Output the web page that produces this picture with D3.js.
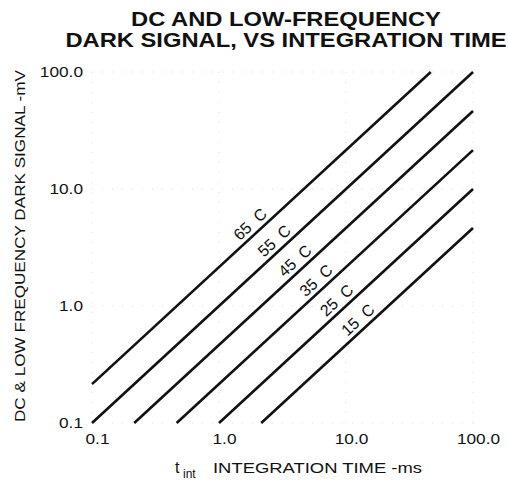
<!DOCTYPE html>
<html>
<head>
<meta charset="utf-8">
<script src="https://cdn.jsdelivr.net/npm/d3@7"></script>
<style>
  html, body { margin: 0; padding: 0; background: #fff; }
  svg { display: block; font-family: "Liberation Sans", Arial, Helvetica, sans-serif; }
</style>
</head>
<body>
<svg id="chart" width="508" height="480"></svg>
<script>
// ---- data ----
const categories   = ["65 C", "55 C", "45 C", "35 C", "25 C", "15 C"];
const startTime    = [0.1, 0.1, 0.215, 0.464, 1.0, 2.15];     // ms
const startSignal  = [0.215, 0.1, 0.1, 0.1, 0.1, 0.1];        // mV
const endTime      = [46.5, 100, 100, 100, 100, 100];         // ms
const endSignal    = [100, 100, 46.4, 21.5, 10, 4.64];        // mV
const labelTime    = [2.0, 3.1, 4.5, 6.6, 9.6, 14.1];         // ms, where each label sits
const xTickValues  = [0.1, 1, 10, 100];
const xTickLabels  = ["0.1", "1.0", "10.0", "100.0"];
const yTickValues  = [0.1, 1, 10, 100];
const yTickLabels  = ["0.1", "1.0", "10.0", "100.0"];
const titleLines   = ["DC AND LOW-FREQUENCY", "DARK SIGNAL, VS INTEGRATION TIME"];
const xTitle       = "INTEGRATION TIME -ms";
const yTitle       = "DC & LOW FREQUENCY DARK SIGNAL -mV";

// ---- layout ----
const svg = d3.select("#chart");
const x = d3.scaleLog().domain([0.1, 100]).range([92, 473]);
const y = d3.scaleLog().domain([0.1, 100]).range([423, 72]);
const ink = "#111";

function stretch(sel, k) {
  sel.each(function () {
    const len = this.getComputedTextLength();
    d3.select(this).attr("textLength", len * k).attr("lengthAdjust", "spacingAndGlyphs");
  });
}

// faint dotted grid (decades)
const grid = svg.append("g").attr("stroke", "#bbb").attr("stroke-width", 1)
  .attr("stroke-dasharray", "1,9").attr("opacity", 0.45);
grid.selectAll("line.v").data(xTickValues).join("line")
  .attr("x1", d => x(d)).attr("x2", d => x(d))
  .attr("y1", y.range()[0]).attr("y2", y.range()[1]);
grid.selectAll("line.h").data(yTickValues).join("line")
  .attr("y1", d => y(d)).attr("y2", d => y(d))
  .attr("x1", x.range()[0]).attr("x2", x.range()[1]);

// title
svg.append("g").selectAll("text").data(titleLines).join("text")
  .attr("x", 286).attr("y", (d, i) => 26 + i * 21)
  .attr("text-anchor", "middle").attr("font-weight", "bold")
  .attr("font-size", 21).attr("fill", ink)
  .text(d => d)
  .call(stretch, 1.13);

// axes
const yAxis = svg.append("g").attr("transform", `translate(${x.range()[0]},0)`)
  .call(d3.axisLeft(y).tickValues(yTickValues).tickSize(0).tickPadding(9)
    .tickFormat((d, i) => yTickLabels[i]));
yAxis.select(".domain").remove();
yAxis.selectAll("text").attr("font-size", 15).attr("fill", ink)
  .attr("font-family", "Liberation Sans, Arial, sans-serif").call(stretch, 1.15);

const xAxis = svg.append("g").attr("transform", `translate(0,${y.range()[0]})`)
  .call(d3.axisBottom(x).tickValues(xTickValues).tickSize(0).tickPadding(10)
    .tickFormat((d, i) => xTickLabels[i]));
xAxis.select(".domain").remove();
xAxis.selectAll("text").attr("font-size", 15).attr("fill", ink).attr("dx", 5)
  .attr("font-family", "Liberation Sans, Arial, sans-serif").call(stretch, 1.15);

// lines
const series = categories.map((c, i) => ({
  name: c,
  pts: [[startTime[i], startSignal[i]], [endTime[i], endSignal[i]]],
  lt: labelTime[i]
}));
const line = d3.line().x(d => x(d[0])).y(d => y(d[1]));
svg.append("g").selectAll("path").data(series).join("path")
  .attr("d", d => line(d.pts))
  .attr("fill", "none").attr("stroke", ink).attr("stroke-width", 2.6);

// labels along lines
const angle = Math.atan2(y(10) - y(1), x(10) - x(1)) * 180 / Math.PI;
function signalAt(s, t) {
  const [a, b] = s.pts;
  const f = (Math.log(t) - Math.log(a[0])) / (Math.log(b[0]) - Math.log(a[0]));
  return Math.exp(Math.log(a[1]) + f * (Math.log(b[1]) - Math.log(a[1])));
}
svg.append("g").selectAll("text").data(series).join("text")
  .attr("transform", d => `translate(${x(d.lt)},${y(signalAt(d, d.lt))}) rotate(${angle})`)
  .attr("y", -5).attr("text-anchor", "middle")
  .attr("font-size", 16).attr("fill", ink)
  .style("white-space", "pre")
  .text(d => d.name.replace(" ", "  "));

// x title
svg.append("text").attr("x", 175).attr("y", 473).attr("font-size", 16).attr("fill", ink).text("t");
svg.append("text").attr("x", 183).attr("y", 478).attr("font-size", 12).attr("fill", ink).text("int");
svg.append("text").attr("x", 213).attr("y", 473).attr("font-size", 15).attr("fill", ink)
  .text(xTitle).attr("textLength", 209).attr("lengthAdjust", "spacingAndGlyphs");

// y title
svg.append("text").attr("transform", "translate(25,246) rotate(-90)")
  .attr("text-anchor", "middle").attr("font-size", 15).attr("fill", ink)
  .text(yTitle).attr("textLength", 352).attr("lengthAdjust", "spacingAndGlyphs");
</script>
</body>
</html>
